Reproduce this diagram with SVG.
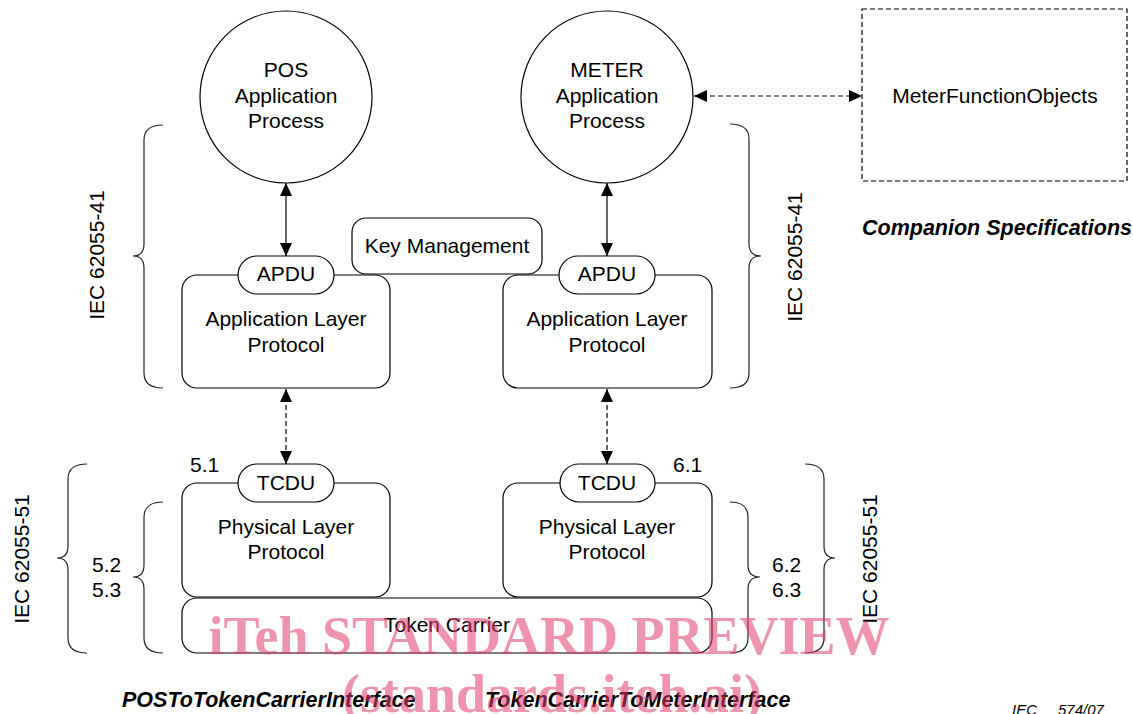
<svg xmlns="http://www.w3.org/2000/svg" width="1133" height="714" viewBox="0 0 1133 714">
<style>
.t{font-family:"Liberation Sans",Arial,sans-serif;font-size:21px;fill:#000}
.m{text-anchor:middle}
.bi{font-weight:bold;font-style:italic;font-size:21.5px}
.s{fill:#fff;stroke:#000;stroke-width:1.2}
.br{fill:none;stroke:#222;stroke-width:1.2}
.c{stroke:#000;stroke-width:1.2;fill:none}
.d{stroke-dasharray:5,3}
.wm{font-family:"Liberation Serif","Times New Roman",serif;font-weight:bold;font-size:54px;fill:rgb(224,60,110);fill-opacity:0.55;text-anchor:middle}
</style>
<defs>
<marker id="ah" markerUnits="userSpaceOnUse" markerWidth="13" markerHeight="13" refX="13" refY="6.5" orient="auto-start-reverse" viewBox="0 0 13 13">
<path d="M0,0.5 L13,6.5 L0,12.5 z" fill="#000"/>
</marker>
</defs>
<rect width="1133" height="714" fill="#fff"/>

<g id="braces">
<path class="br" d="M163,125 Q144,125 144,140 L144,244 Q144,256 133,256 Q144,256 144,268 L144,373 Q144,388 163,388"/>
<path class="br" d="M730,124 Q749,124 749,139 L749,244 Q749,256 761,256 Q749,256 749,268 L749,373 Q749,388 730,388"/>
<path class="br" d="M87,464 Q68,464 68,479 L68,546 Q68,558 57,558 Q68,558 68,570 L68,638 Q68,653 87,653"/>
<path class="br" d="M163,502 Q144,502 144,517 L144,565 Q144,577 133,577 Q144,577 144,589 L144,638 Q144,653 163,653"/>
<path class="br" d="M730,502 Q748,502 748,517 L748,565 Q748,577 760,577 Q748,577 748,589 L748,638 Q748,653 730,653"/>
<path class="br" d="M805,464 Q824,464 824,479 L824,546 Q824,558 835,558 Q824,558 824,570 L824,638 Q824,653 805,653"/>
</g>

<g id="connectors">
<line class="c" x1="286" y1="183" x2="286" y2="256" marker-start="url(#ah)" marker-end="url(#ah)"/>
<line class="c" x1="607" y1="183" x2="607" y2="256" marker-start="url(#ah)" marker-end="url(#ah)"/>
<line class="c d" x1="286" y1="389" x2="286" y2="464" marker-start="url(#ah)" marker-end="url(#ah)"/>
<line class="c d" x1="607" y1="389" x2="607" y2="464" marker-start="url(#ah)" marker-end="url(#ah)"/>
<line class="c d" x1="694" y1="96" x2="862" y2="96" marker-start="url(#ah)" marker-end="url(#ah)"/>
</g>

<g id="pos-process">
<circle class="s" cx="286" cy="97" r="86"/>
<text class="t m" x="286" y="77">POS</text>
<text class="t m" x="286" y="103">Application</text>
<text class="t m" x="286" y="128">Process</text>
</g>
<g id="meter-process">
<circle class="s" cx="607" cy="97" r="86"/>
<text class="t m" x="607" y="77">METER</text>
<text class="t m" x="607" y="103">Application</text>
<text class="t m" x="607" y="128">Process</text>
</g>
<g id="meter-function-objects">
<rect x="862" y="9" width="265" height="172" fill="#fff" stroke="#000" stroke-width="1.2" stroke-dasharray="5,3"/>
<text class="t m" x="995" y="103">MeterFunctionObjects</text>
</g>
<g id="companion">
<text class="t bi" x="862" y="235">Companion Specifications</text>
</g>

<g id="key-management">
<rect class="s" x="352" y="218" width="190" height="56" rx="14"/>
<text class="t m" x="447" y="253">Key Management</text>
</g>

<g id="pos-app-layer">
<rect class="s" x="182" y="275" width="208" height="113" rx="15"/>
<text class="t m" x="286" y="326">Application Layer</text>
<text class="t m" x="286" y="352">Protocol</text>
</g>
<g id="pos-apdu">
<rect class="s" x="238" y="256" width="96" height="38" rx="19"/>
<text class="t m" x="286" y="281">APDU</text>
</g>
<g id="meter-app-layer">
<rect class="s" x="503" y="275" width="209" height="113" rx="15"/>
<text class="t m" x="607" y="326">Application Layer</text>
<text class="t m" x="607" y="352">Protocol</text>
</g>
<g id="meter-apdu">
<rect class="s" x="559" y="256" width="96" height="38" rx="19"/>
<text class="t m" x="607" y="281">APDU</text>
</g>

<g id="token-carrier">
<rect class="s" x="182" y="598" width="530" height="55" rx="15"/>
<text class="t m" x="447" y="632">Token Carrier</text>
</g>
<g id="pos-physical">
<rect class="s" x="182" y="483" width="208" height="114" rx="15"/>
<text class="t m" x="286" y="534">Physical Layer</text>
<text class="t m" x="286" y="559">Protocol</text>
</g>
<g id="pos-tcdu">
<rect class="s" x="238" y="464" width="96" height="38" rx="19"/>
<text class="t m" x="286" y="490">TCDU</text>
</g>
<g id="meter-physical">
<rect class="s" x="503" y="483" width="209" height="114" rx="15"/>
<text class="t m" x="607" y="534">Physical Layer</text>
<text class="t m" x="607" y="559">Protocol</text>
</g>
<g id="meter-tcdu">
<rect class="s" x="560" y="464" width="95" height="38" rx="19"/>
<text class="t m" x="607" y="490">TCDU</text>
</g>

<g id="labels">
<text class="t m" transform="translate(104,255) rotate(-90)">IEC 62055-41</text>
<text class="t m" transform="translate(802,257) rotate(-90)">IEC 62055-41</text>
<text class="t m" transform="translate(29,559) rotate(-90)">IEC 62055-51</text>
<text class="t m" transform="translate(877,559) rotate(-90)">IEC 62055-51</text>
<text class="t" x="190" y="472">5.1</text>
<text class="t" x="673" y="472">6.1</text>
<text class="t" x="92" y="572">5.2</text>
<text class="t" x="92" y="597">5.3</text>
<text class="t" x="772" y="572">6.2</text>
<text class="t" x="772" y="597">6.3</text>
<text class="t bi" x="122" y="707">POSToTokenCarrierInterface</text>
<text class="t bi" x="485" y="707">TokenCarrierToMeterInterface</text>
<text class="t" x="1012" y="715" style="font-size:15px;font-style:italic">IEC</text>
<text class="t" x="1058" y="715" style="font-size:15px;font-style:italic">574/07</text>
</g>

<g id="watermark">
<text class="wm" x="549" y="654">iTeh STANDARD PREVIEW</text>
<text class="wm" x="552" y="712">(standards.iteh.ai)</text>
</g>
</svg>
